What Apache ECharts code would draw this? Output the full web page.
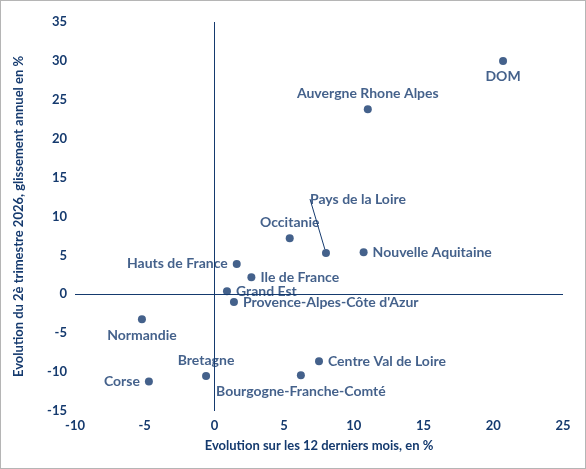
<!DOCTYPE html>
<html><head><meta charset="utf-8">
<script src="https://cdn.jsdelivr.net/npm/echarts@6/dist/echarts.min.js"></script>
<style>html,body{margin:0;background:#fff}#c{width:586px;height:469px;box-sizing:border-box;border:1px solid #b5b5b5}</style>
</head><body><div id="c"></div>
<script>
const regions = ['DOM','Auvergne Rhone Alpes','Pays de la Loire','Nouvelle Aquitaine','Occitanie','Hauts de France','Ile de France','Grand Est','Provence-Alpes-Côte d\'Azur','Normandie','Bretagne','Corse','Centre Val de Loire','Bourgogne-Franche-Comté'];
const evo12m = [20.7, 11.0, 8.0, 10.7, 5.4, 1.6, 2.65, 0.9, 1.4, -5.2, -0.6, -4.7, 7.5, 6.2];
const evoT2 = [30.0, 23.8, 5.3, 5.4, 7.2, 3.9, 2.2, 0.4, -1.0, -3.2, -10.5, -11.2, -8.6, -10.4];
const labelPos = [
  ['bottom',[-14,0]],['top',[-3,0]],['top',[0,0]],['right',[0,-8]],['top',[-24,0]],
  ['left',[0,-12]],['right',[0,-5]],['right',[-3,-4]],['right',[-6,12]],['bottom',[-8,0]],
  ['top',[-33,0]],['left',[0,6]],['right',[0,-9]],['bottom',[4,0]]
];
const navy = '#153a6e';
const chart = echarts.init(document.getElementById('c'));
chart.setOption({
  animation:false,
  grid:{left:74,right:22,top:21,bottom:57},
  textStyle:{fontFamily:'Lato',fontWeight:'bold'},
  xAxis:{type:'value',min:-10,max:25,interval:5,
    name:'Evolution sur les 12 derniers mois, en %',nameLocation:'middle',nameGap:28,
    nameTextStyle:{color:navy,fontSize:13,fontWeight:'bold'},
    axisLine:{show:false},axisTick:{show:false},splitLine:{show:false},
    axisLabel:{color:navy,fontSize:13,fontWeight:'bold'}},
  yAxis:{type:'value',min:-15,max:35,interval:5,
    name:'Evolution du 2è trimestre 2026, glissement annuel en %',nameLocation:'middle',nameGap:50,
    nameTextStyle:{color:navy,fontSize:13,fontWeight:'bold'},
    axisLine:{show:false},axisTick:{show:false},splitLine:{show:false},
    axisLabel:{color:navy,fontSize:13,fontWeight:'bold'}},
  series:[{
    type:'scatter',symbolSize:8,itemStyle:{color:navy},
    data:regions.map((r,i)=>({value:[evo12m[i],evoT2[i]],name:r,
      label:{position:labelPos[i][0],offset:labelPos[i][1]},
      labelLine:{show:i===2}})),
    label:{show:true,formatter:'{b}',color:navy,fontSize:14,fontWeight:'bold',distance:5},
    labelLine:{show:false,lineStyle:{color:navy,width:1}},
    labelLayout:p=>p.dataIndex===2?{dx:32,dy:-38}:{},
    markLine:{silent:true,symbol:'none',label:{show:false},
      lineStyle:{color:navy,width:1,type:'solid'},
      data:[{xAxis:0},{yAxis:0}]}
  }]
});
</script></body></html>
